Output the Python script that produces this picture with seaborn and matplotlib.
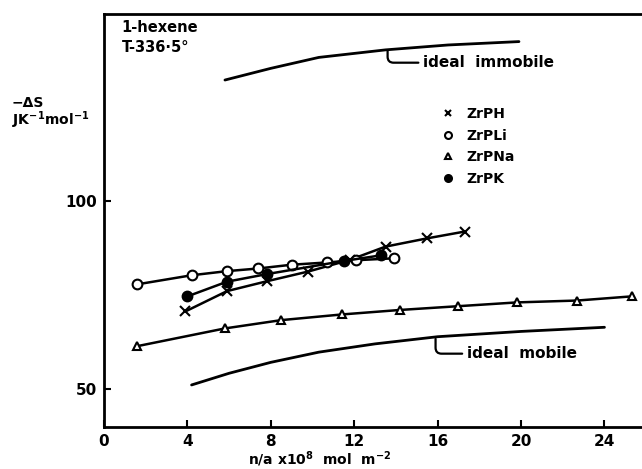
import pandas as pd
import matplotlib.pyplot as plt
import seaborn as sns
from matplotlib.lines import Line2D

# === DATOS ===
zrph_x = [3.9, 5.9, 7.8, 9.8, 11.8, 13.5, 15.5, 17.3]
zrph_y = [70.6, 76.0, 78.6, 81.2, 84.3, 87.8, 90.0, 91.8]

zrpli_x = [1.6, 4.2, 5.9, 7.4, 9.0, 10.7, 12.1, 13.9]
zrpli_y = [77.8, 80.2, 81.3, 82.0, 83.0, 83.6, 84.2, 84.7]

zrpk_x = [4.0, 5.9, 7.8, 11.5, 13.3]
zrpk_y = [74.6, 78.5, 80.5, 84.0, 85.5]

zrpna_x = [1.6, 5.8, 8.5, 11.4, 14.2, 17.0, 19.8, 22.7, 25.3]
zrpna_y = [61.4, 66.1, 68.3, 69.8, 71.0, 72.0, 73.0, 73.5, 74.6]

mobile_x = [4.2, 6.0, 8.0, 10.3, 13.0, 16.0, 20.0, 24.0]
mobile_y = [51.1, 54.2, 57.1, 59.8, 62.0, 63.9, 65.3, 66.4]

immobile_x = [5.8, 8.0, 10.3, 13.5, 16.5, 19.9]
immobile_y = [132.0, 135.1, 138.0, 140.0, 141.3, 142.2]

x_ticks = [0, 4, 8, 12, 16, 20, 24]
y_ticks = [50, 100]

# === ESTILO ===
sns.set_style("ticks", {"axes.edgecolor": "black", "text.color": "black",
                        "axes.labelcolor": "black", "xtick.color": "black",
                        "ytick.color": "black"})
plt.rcParams["font.family"] = ["DejaVu Sans"]
plt.rcParams["font.weight"] = "bold"

fig = plt.figure(figsize=(6.42, 4.69), dpi=100)
ax = fig.add_axes([0.162, 0.09, 0.838, 0.880])

series = [
    ("ZrPH", zrph_x, zrph_y, "x", "black"),
    ("ZrPLi", zrpli_x, zrpli_y, "o", "white"),
    ("ZrPNa", zrpna_x, zrpna_y, "^", "white"),
    ("ZrPK", zrpk_x, zrpk_y, "o", "black"),
]
for nombre, xs, ys, mk, fc in series:
    sns.lineplot(x=xs, y=ys, ax=ax, color="black", lw=1.8, marker=mk,
                 markersize=7 if mk != "^" else 6, markerfacecolor=fc,
                 markeredgecolor="black", markeredgewidth=1.5,
                 estimator=None, sort=True)

sns.lineplot(x=mobile_x, y=mobile_y, ax=ax, color="black", lw=2, estimator=None)
sns.lineplot(x=immobile_x, y=immobile_y, ax=ax, color="black", lw=2, estimator=None)

# === EJES ===
ax.set_xlim(0, 25.8)
ax.set_ylim(40, 149.5)
ax.set_xticks(x_ticks)
ax.set_yticks(y_ticks)
ax.tick_params(direction="in", length=5, width=1.5, labelsize=11, pad=5)
for lbl in ax.get_xticklabels() + ax.get_yticklabels():
    lbl.set_fontweight("bold")
ax.spines["right"].set_visible(False)
for s in ["left", "bottom", "top"]:
    ax.spines[s].set_linewidth(2)

ax.set_xlabel("n/a x10$^{\\mathbf{8}}$  mol  m$^{\\mathbf{-2}}$", fontsize=10, fontweight="bold")
ax.xaxis.label.set_va("baseline")
ax.xaxis.set_label_coords(0.40, -0.092)
fig.text(0.018, 0.758, "\u2212\u0394S\nJK$^{\\mathbf{-1}}$mol$^{\\mathbf{-1}}$",
         fontsize=10, fontweight="bold", ha="left", va="center", linespacing=1.0)

ax.text(0.033, 0.967, "1-hexene", transform=ax.transAxes, fontsize=10.5,
        fontweight="bold", ha="left", va="center")
ax.text(0.033, 0.918, "T-336\u00b75\u00b0", transform=ax.transAxes, fontsize=10.5,
        fontweight="bold", ha="left", va="center")

# === ANOTACIONES ===
ax.annotate("ideal  immobile", xy=(13.6, 140.0), xytext=(15.3, 136.6),
            fontsize=11, fontweight="bold", ha="left", va="center",
            arrowprops=dict(arrowstyle="-", lw=1.6, color="black",
                            connectionstyle="angle,angleA=0,angleB=90,rad=6",
                            shrinkA=1, shrinkB=1))
ax.annotate("ideal  mobile", xy=(15.9, 63.7), xytext=(17.4, 59.4),
            fontsize=11, fontweight="bold", ha="left", va="center",
            arrowprops=dict(arrowstyle="-", lw=1.6, color="black",
                            connectionstyle="angle,angleA=0,angleB=90,rad=6",
                            shrinkA=1, shrinkB=1))

# === LEYENDA ===
handles = [Line2D([], [], ls="none", marker=mk, color="black", markersize=5,
                  markerfacecolor=fc, markeredgewidth=1.5)
           for _, _, _, mk, fc in series]
ax.legend(handles, [s[0] for s in series], loc="upper left",
          bbox_to_anchor=(0.603, 0.805), frameon=False, handlelength=1.0,
          handletextpad=0.8, labelspacing=0.55, prop={"size": 10, "weight": "bold"})

fig.savefig("out.png", dpi=100)
